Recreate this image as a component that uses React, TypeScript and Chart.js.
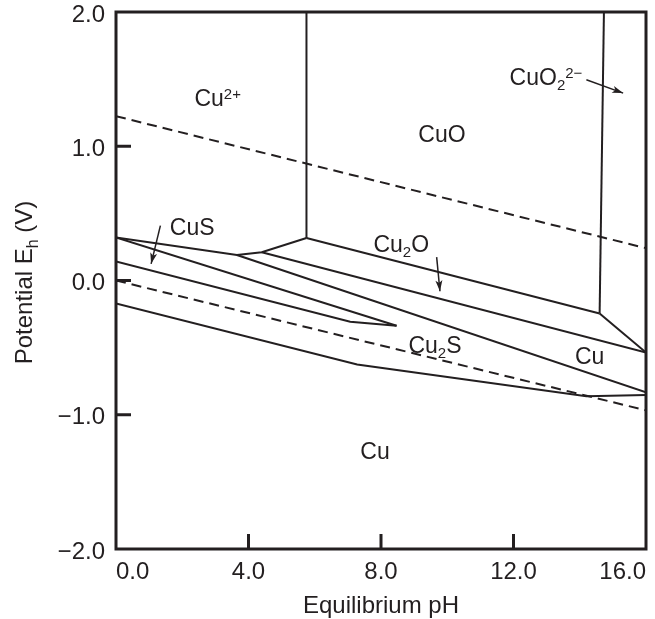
import { useEffect, useRef } from 'react';
import { Chart, registerables } from 'chart.js';

Chart.register(...registerables);

const INK = '#231f20';
const FONT = '"Liberation Sans", Arial, Helvetica, sans-serif';

// Axis ticks
const pHTicks = [0, 4, 8, 12, 16];
const ehTicks = [2, 1, 0, -1, -2];

// Phase boundaries, as [pH, Eh (V)] pairs
const cu2LowerBoundary = [[0, 0.32], [3.65, 0.19], [4.4, 0.21], [5.75, 0.317]];
const cu2CuOBoundary = [[5.75, 0.317], [5.75, 2.0]];
const cuOCu2OBoundary = [[5.75, 0.317], [14.6, -0.246]];
const cuOCuO2Boundary = [[14.6, -0.246], [14.73, 2.0]];
const cuO2Cu2OBoundary = [[14.6, -0.246], [16, -0.537]];
const cu2OLowerBoundary = [[4.4, 0.21], [16, -0.537]];
const cuSUpperBoundary = [[0, 0.32], [8.47, -0.337]];
const cuSLowerBoundary = [[0, 0.142], [7.07, -0.307], [8.47, -0.337]];
const cu2SCuUpperBoundary = [[3.65, 0.19], [16, -0.833]];
const cu2SCuLowerBoundary = [[0, -0.172], [7.28, -0.626], [14.2, -0.863], [16, -0.852]];

// Water stability lines (dashed)
const oxygenLine = [[0, 1.224], [16, 0.241]];
const hydrogenLine = [[0, 0], [16, -0.967]];

// Label pointer arrows [from, to]
const cuO2Arrow = [[14.2, 1.495], [15.31, 1.396]];
const cuSArrow = [[1.34, 0.409], [1.06, 0.124]];
const cu2OArrow = [[9.68, 0.174], [9.78, -0.08]];

// Region labels
const labelPH = [3.07, 9.84, 12.98, 2.3, 8.61, 9.63, 14.3, 7.82];
const labelEh = [1.3, 1.033, 1.458, 0.342, 0.211, -0.542, -0.624, -1.33];
const labelParts: { t: string; k?: 'sub' | 'sup' }[][] = [
  [{ t: 'Cu' }, { t: '2+', k: 'sup' }],
  [{ t: 'CuO' }],
  [{ t: 'CuO' }, { t: '2', k: 'sub' }, { t: '2\u2212', k: 'sup' }],
  [{ t: 'CuS' }],
  [{ t: 'Cu' }, { t: '2', k: 'sub' }, { t: 'O' }],
  [{ t: 'Cu' }, { t: '2', k: 'sub' }, { t: 'S' }],
  [{ t: 'Cu' }],
  [{ t: 'Cu' }],
];

const xTitle = 'Equilibrium pH';
const yTitleMain = 'Potential E';
const yTitleSub = 'h';
const yTitleEnd = ' (V)';

const fmt = (v: number) => (v < 0 ? '\u2212' : '') + Math.abs(v).toFixed(1);

const toPts = (arr: number[][]) => arr.map(([x, y]) => ({ x, y }));

const solid = (arr: number[][]) => ({
  data: toPts(arr),
  showLine: true,
  borderColor: INK,
  borderWidth: 2,
  pointRadius: 0,
  fill: false,
  tension: 0,
});

const dashed = (arr: number[][]) => ({ ...solid(arr), borderDash: [10, 6] });

const thin = (arr: number[][]) => ({ ...solid(arr), borderWidth: 1.5 });

const drawRich = (ctx: CanvasRenderingContext2D, parts: { t: string; k?: string }[], cx: number, by: number) => {
  const big = `23px ${FONT}`;
  const small = `15px ${FONT}`;
  let w = 0;
  for (const p of parts) {
    ctx.font = p.k ? small : big;
    w += ctx.measureText(p.t).width;
  }
  let x = cx - w / 2;
  ctx.textAlign = 'left';
  ctx.textBaseline = 'alphabetic';
  for (const p of parts) {
    ctx.font = p.k ? small : big;
    const dy = p.k === 'sup' ? -7 : p.k === 'sub' ? 5 : 0;
    ctx.fillText(p.t, x, by + dy);
    x += ctx.measureText(p.t).width;
  }
};

const decorPlugin = {
  id: 'decor',
  afterDraw(chart: any) {
    const { ctx, chartArea } = chart;
    const xs = chart.scales.x;
    const ys = chart.scales.y;
    const { left, right, top, bottom } = chartArea;
    ctx.save();
    ctx.strokeStyle = INK;
    ctx.fillStyle = INK;
    ctx.lineCap = 'butt';

    // inward tick marks
    ctx.lineWidth = 3;
    pHTicks.slice(1, -1).forEach((v) => {
      const px = xs.getPixelForValue(v);
      ctx.beginPath();
      ctx.moveTo(px, bottom);
      ctx.lineTo(px, bottom - 15);
      ctx.stroke();
    });
    ehTicks.slice(1, -1).forEach((v) => {
      const py = ys.getPixelForValue(v);
      ctx.beginPath();
      ctx.moveTo(left, py);
      ctx.lineTo(left + 15, py);
      ctx.stroke();
    });

    // frame
    ctx.lineWidth = 3;
    ctx.strokeRect(left, top, right - left, bottom - top);

    // arrowheads
    [cuO2Arrow, cuSArrow, cu2OArrow].forEach((a) => {
      const x0 = xs.getPixelForValue(a[0][0]);
      const y0 = ys.getPixelForValue(a[0][1]);
      const x1 = xs.getPixelForValue(a[1][0]);
      const y1 = ys.getPixelForValue(a[1][1]);
      const ang = Math.atan2(y1 - y0, x1 - x0);
      const L = 11;
      const W = 3.5;
      ctx.beginPath();
      ctx.moveTo(x1, y1);
      ctx.lineTo(x1 - L * Math.cos(ang) + W * Math.sin(ang), y1 - L * Math.sin(ang) - W * Math.cos(ang));
      ctx.lineTo(x1 - L * 0.75 * Math.cos(ang), y1 - L * 0.75 * Math.sin(ang));
      ctx.lineTo(x1 - L * Math.cos(ang) - W * Math.sin(ang), y1 - L * Math.sin(ang) + W * Math.cos(ang));
      ctx.closePath();
      ctx.fill();
    });

    // region labels
    labelParts.forEach((parts, i) => {
      drawRich(ctx, parts, xs.getPixelForValue(labelPH[i]), ys.getPixelForValue(labelEh[i]));
    });

    // x title
    ctx.font = `24px ${FONT}`;
    ctx.textAlign = 'center';
    ctx.textBaseline = 'alphabetic';
    ctx.fillText(xTitle, (left + right) / 2, 613);

    // y title (rotated, with subscript)
    ctx.translate(32, (top + bottom) / 2 + 2);
    ctx.rotate(-Math.PI / 2);
    ctx.textAlign = 'left';
    const bigF = `24px ${FONT}`;
    const subF = `16px ${FONT}`;
    ctx.font = bigF;
    const w1 = ctx.measureText(yTitleMain).width;
    const w3 = ctx.measureText(yTitleEnd).width;
    ctx.font = subF;
    const w2 = ctx.measureText(yTitleSub).width;
    let x = -(w1 + w2 + w3) / 2;
    ctx.font = bigF;
    ctx.fillText(yTitleMain, x, 0);
    x += w1;
    ctx.font = subF;
    ctx.fillText(yTitleSub, x, 6);
    x += w2;
    ctx.font = bigF;
    ctx.fillText(yTitleEnd, x, 0);
    ctx.restore();
  },
};

export default function App() {
  const ref = useRef<HTMLCanvasElement>(null);

  useEffect(() => {
    document.body.style.margin = '0';
    const canvas = ref.current!;
    const zeroPad = (s: any) => {
      s.paddingTop = 0;
      s.paddingBottom = 0;
      s.paddingLeft = 0;
      s.paddingRight = 0;
    };
    const chart = new Chart(canvas, {
      type: 'scatter',
      data: {
        datasets: [
          solid(cu2LowerBoundary),
          solid(cu2CuOBoundary),
          solid(cuOCu2OBoundary),
          solid(cuOCuO2Boundary),
          solid(cuO2Cu2OBoundary),
          solid(cu2OLowerBoundary),
          solid(cuSUpperBoundary),
          solid(cuSLowerBoundary),
          solid(cu2SCuUpperBoundary),
          solid(cu2SCuLowerBoundary),
          dashed(oxygenLine),
          dashed(hydrogenLine),
          thin(cuO2Arrow),
          thin(cuSArrow),
          thin(cu2OArrow),
        ] as any,
      },
      options: {
        animation: false,
        responsive: false,
        maintainAspectRatio: false,
        layout: { padding: { left: 0, right: 9, top: 12, bottom: 0 } },
        plugins: { legend: { display: false }, tooltip: { enabled: false } },
        scales: {
          x: {
            type: 'linear',
            min: 0,
            max: 16,
            afterBuildTicks: (s: any) => {
              s.ticks = pHTicks.map((v) => ({ value: v }));
            },
            afterFit: (s: any) => {
              s.height = 70;
              zeroPad(s);
            },
            ticks: {
              align: 'inner',
              padding: 9,
              autoSkip: false,
              maxRotation: 0,
              color: INK,
              font: { family: FONT, size: 24 },
              callback: (v: any) => fmt(Number(v)),
            },
            grid: { display: false, drawTicks: false },
            border: { display: false },
          },
          y: {
            type: 'linear',
            min: -2,
            max: 2,
            afterBuildTicks: (s: any) => {
              s.ticks = ehTicks.map((v) => ({ value: v }));
            },
            afterFit: (s: any) => {
              s.width = 116;
              zeroPad(s);
            },
            ticks: {
              padding: 11,
              labelOffset: 3,
              autoSkip: false,
              color: INK,
              font: { family: FONT, size: 24 },
              callback: (v: any) => fmt(Number(v)),
            },
            grid: { display: false, drawTicks: false },
            border: { display: false },
          },
        },
      } as any,
      plugins: [decorPlugin],
    });
    return () => chart.destroy();
  }, []);

  return <canvas ref={ref} width={655} height={619} style={{ display: 'block' }} />;
}
